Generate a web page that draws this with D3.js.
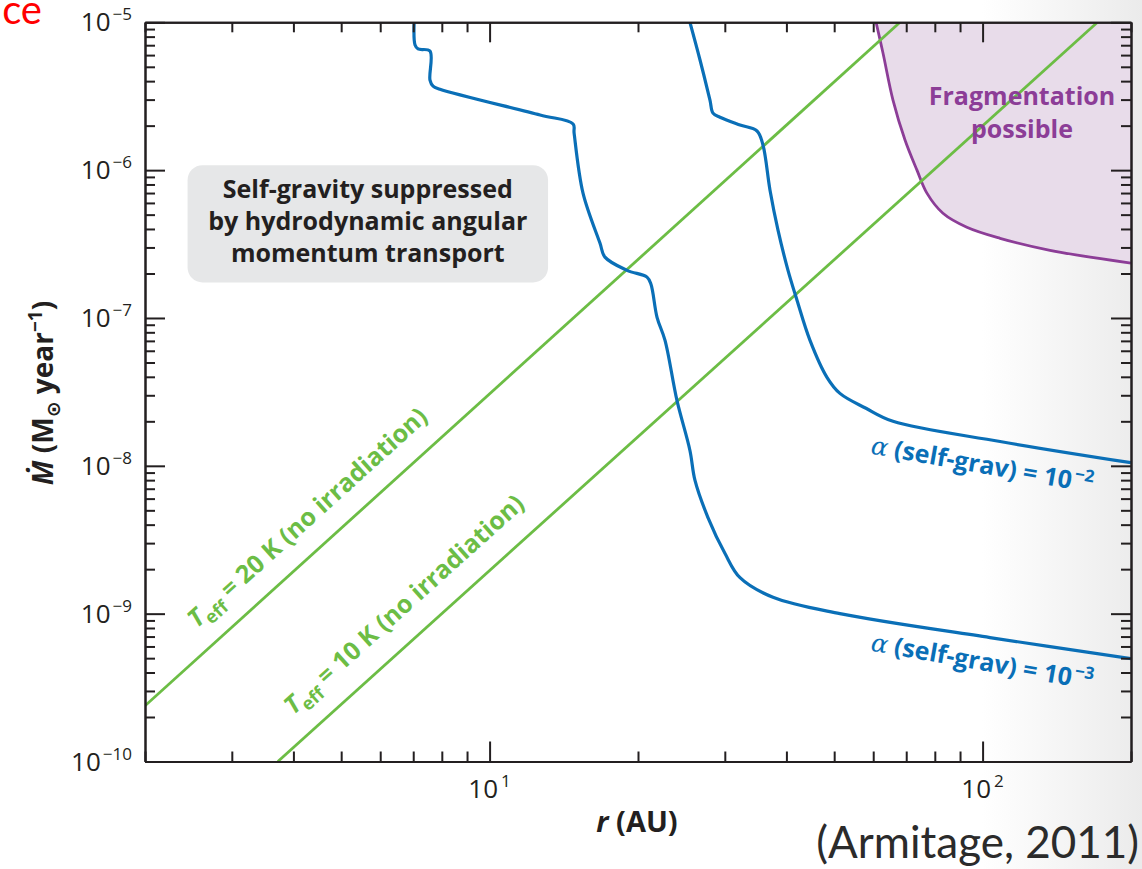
<!DOCTYPE html>
<html>
<head>
<meta charset="utf-8">
<script src="https://cdn.jsdelivr.net/npm/d3@7"></script>
<style>
    html, body { margin: 0; padding: 0; background: #fff; }
    svg { display: block; }
</style>
</head>
<body>
<div id="chart"></div>
<script>
// ---- data (r in AU, Mdot in Msun/yr) ----
const radiusDomain = [2, 200];
const mdotDomain = [1e-10, 1e-5];
const xMajorTicks = [10, 100];
const xTickLabels = ["1", "2"];
const yMajorTicks = [1e-10, 1e-9, 1e-8, 1e-7, 1e-6, 1e-5];
const yTickLabels = ["\u221210", "\u22129", "\u22128", "\u22127", "\u22126", "\u22125"];

// Teff lines (no irradiation)
const teff20 = [[2, 2.38e-10], [68, 1e-5]];
const teff10 = [[3.72, 1e-10], [171, 1e-5]];

// alpha(self-grav) = 1e-3
const alpha3 = [
    [7.03, 1e-5], [7.06, 7.02e-6], [7.16, 6.60e-6], [7.57, 6.39e-6], [7.57, 4.07e-6],
    [7.68, 3.70e-6], [7.93, 3.53e-6], [12.66, 2.36e-6], [14.77, 2.05e-6], [14.84, 1.78e-6],
    [15.47, 6.99e-7], [16.75, 3.20e-7], [17.14, 2.58e-7], [19.0, 2.10e-7], [20.86, 1.89e-7],
    [21.25, 1.69e-7], [21.86, 1.01e-7], [22.69, 7.06e-8], [23.99, 2.77e-8], [25.49, 1.27e-8],
    [26.10, 7.96e-9], [27.73, 4.47e-9], [30.03, 2.55e-9], [32.21, 1.75e-9], [37.57, 1.29e-9],
    [51.36, 1.00e-9], [103.5, 6.89e-10], [200, 4.97e-10]
];

// alpha(self-grav) = 1e-2
const alpha2 = [
    [25.49, 1e-5], [26.72, 5.56e-6], [27.99, 2.98e-6], [28.39, 2.43e-6], [29.33, 2.28e-6],
    [32.21, 2.02e-6], [34.87, 1.84e-6], [35.85, 1.48e-6], [37.05, 7.32e-7], [38.46, 3.93e-7],
    [40.30, 2.10e-7], [42.03, 1.32e-7], [44.66, 7.06e-8], [48.34, 3.97e-8], [51.36, 3.09e-8],
    [58.0, 2.45e-8], [65.8, 2.00e-8], [108.5, 1.46e-8], [200, 1.05e-8]
];

// fragmentation boundary
const fragBoundary = [
    [60.8, 1e-5], [62.8, 6.20e-6], [65.8, 2.98e-6], [69.6, 1.60e-6], [73.6, 1.0e-6],
    [77.1, 6.99e-7], [83.1, 5.11e-7], [92.9, 4.11e-7], [108.5, 3.46e-7], [137, 2.87e-7],
    [200, 2.35e-7]
];

const green = "#6cbd45";
const blue = "#0a6fb7";
const purple = "#8c3d97";
const ink = "#231f20";

const W = 1142, H = 869;
const plot = { left: 145, right: 1131, top: 22.3, bottom: 761.5 };

const svg = d3.select("#chart").append("svg")
    .attr("width", W)
    .attr("height", H)
    .style("font-family", "'Open Sans', 'DejaVu Sans', sans-serif");

// slide background with the grey fade on the right
const defs = svg.append("defs");
const grad = defs.append("linearGradient").attr("id", "bg").attr("x1", 0).attr("x2", 1).attr("y1", 0).attr("y2", 0);
grad.append("stop").attr("offset", "0.86").attr("stop-color", "#ffffff");
grad.append("stop").attr("offset", "1").attr("stop-color", "#ebebeb");
svg.append("rect").attr("width", W).attr("height", H).attr("fill", "url(#bg)");

defs.append("clipPath").attr("id", "clip")
    .append("rect")
    .attr("x", plot.left).attr("y", plot.top)
    .attr("width", plot.right - plot.left).attr("height", plot.bottom - plot.top);

const x = d3.scaleLog().domain(radiusDomain).range([plot.left, plot.right]);
const y = d3.scaleLog().domain(mdotDomain).range([plot.bottom, plot.top]);

const line = d3.line()
    .x(d => x(d[0]))
    .y(d => y(d[1]))
    .curve(d3.curveCatmullRom.alpha(0.5));

const g = svg.append("g").attr("clip-path", "url(#clip)");

// fragmentation region: boundary plus the upper right corner
const fragArea = fragBoundary.concat([[radiusDomain[1] * 1.2, mdotDomain[1] * 1.5], [fragBoundary[0][0], mdotDomain[1] * 1.5]]);
g.append("path")
    .attr("d", d3.line().x(d => x(d[0])).y(d => y(d[1]))(fragArea) + "Z")
    .attr("fill", "#e8dcea");

g.append("path").attr("d", line(fragBoundary))
    .attr("fill", "none").attr("stroke", purple).attr("stroke-width", 2.8);

[teff20, teff10].forEach(d => {
    g.append("path").attr("d", d3.line().x(p => x(p[0])).y(p => y(p[1]))(d))
        .attr("fill", "none").attr("stroke", green).attr("stroke-width", 2.8);
});

[alpha3, alpha2].forEach(d => {
    g.append("path").attr("d", line(d))
        .attr("fill", "none").attr("stroke", blue).attr("stroke-width", 3.2)
        .attr("stroke-linejoin", "round");
});

// ---- axes: inward ticks on all four sides ----
const isMajor = v => Math.abs(Math.log10(v) - Math.round(Math.log10(v))) < 1e-9;
const xMinor = x.ticks().filter(v => !isMajor(v));
const yMinor = y.ticks().filter(v => !isMajor(v));

function styleAxis(sel) {
    sel.selectAll("path.domain").attr("stroke", ink).attr("stroke-width", 2);
    sel.selectAll(".tick line").attr("stroke", ink).attr("stroke-width", 2);
    sel.selectAll(".tick text").remove();
}

const axes = [
    { make: d3.axisBottom, sc: x, tr: `translate(0,${plot.bottom})`, minor: xMinor, major: xMajorTicks },
    { make: d3.axisTop, sc: x, tr: `translate(0,${plot.top})`, minor: xMinor, major: xMajorTicks },
    { make: d3.axisLeft, sc: y, tr: `translate(${plot.left},0)`, minor: yMinor, major: yMajorTicks },
    { make: d3.axisRight, sc: y, tr: `translate(${plot.right},0)`, minor: yMinor, major: yMajorTicks }
];
axes.forEach(a => {
    svg.append("g").attr("transform", a.tr)
        .call(a.make(a.sc).tickValues(a.minor).tickSizeInner(-10).tickSizeOuter(0).tickFormat(""))
        .call(styleAxis);
    svg.append("g").attr("transform", a.tr)
        .call(a.make(a.sc).tickValues(a.major).tickSizeInner(-20).tickSizeOuter(0).tickFormat(""))
        .call(styleAxis);
});

// tick labels 10^n
const tickFont = 26;
yMajorTicks.forEach((v, i) => {
    const t = svg.append("text")
        .attr("x", plot.left - 13)
        .attr("y", y(v) + 9)
        .attr("text-anchor", "end")
        .attr("fill", ink)
        .attr("font-size", tickFont);
    t.append("tspan").text("10");
    t.append("tspan").attr("dy", -11).attr("dx", 2).attr("font-size", 17).text(yTickLabels[i]);
});
xMajorTicks.forEach((v, i) => {
    const t = svg.append("text")
        .attr("x", x(v))
        .attr("y", plot.bottom + 36)
        .attr("text-anchor", "middle")
        .attr("fill", ink)
        .attr("font-size", tickFont);
    t.append("tspan").text("10");
    t.append("tspan").attr("dy", -11).attr("dx", 3).attr("font-size", 17).text(xTickLabels[i]);
});

// axis titles
const xt = svg.append("text")
    .attr("x", 637).attr("y", 832)
    .attr("text-anchor", "middle")
    .attr("font-size", 29).attr("font-weight", "bold").attr("fill", ink);
xt.append("tspan").attr("font-style", "italic").text("r");
xt.append("tspan").text(" (AU)");

const yt = svg.append("text")
    .attr("transform", "translate(53,393) rotate(-90)")
    .attr("text-anchor", "middle")
    .attr("font-size", 28).attr("font-weight", "bold").attr("fill", ink);
yt.append("tspan").attr("font-style", "italic").text("\u1E40");
yt.append("tspan").text(" (M");
yt.append("tspan").attr("dy", 7).attr("font-size", 19).attr("font-family", "'DejaVu Sans'").text("\u2299");
yt.append("tspan").attr("dy", -7).text(" year");
yt.append("tspan").attr("dy", -11).attr("font-size", 19).text("\u22121");
yt.append("tspan").attr("dy", 11).text(")");

// ---- annotations ----
function lineAngle(d) {
    return Math.atan2(y(d[1][1]) - y(d[0][1]), x(d[1][0]) - x(d[0][0])) * 180 / Math.PI;
}

const teffLabels = [
    { line: teff20, r: 2.55, m: 7.9e-10, value: "20" },
    { line: teff10, r: 4.0, m: 2.05e-10, value: "10" }
];
teffLabels.forEach(l => {
    const t = svg.append("text")
        .attr("transform", `translate(${x(l.r)},${y(l.m)}) rotate(${lineAngle(l.line)})`)
        .attr("font-size", 25).attr("font-weight", "bold").attr("fill", green);
    t.append("tspan").attr("font-style", "italic").text("T");
    t.append("tspan").attr("dy", 7).attr("font-size", 18).text("eff");
    t.append("tspan").attr("dy", -7).text(` = ${l.value} K (no irradiation)`);
});

const alphaLabels = [
    { r: 59.1, m: 1.21e-8, exp: "\u22122" },
    { r: 59.1, m: 5.63e-10, exp: "\u22123" }
];
alphaLabels.forEach(l => {
    const t = svg.append("text")
        .attr("transform", `translate(${x(l.r)},${y(l.m)}) rotate(10)`)
        .attr("font-size", 25).attr("font-weight", "bold").attr("fill", blue);
    t.append("tspan").attr("font-style", "italic").attr("font-family", "'DejaVu Serif', serif").attr("font-weight", "normal").text("\u03B1");
    t.append("tspan").text(" (self-grav) = 10");
    t.append("tspan").attr("dy", -10).attr("font-size", 17).attr("dx", 2).text(l.exp);
});

const fragLines = [
    { text: "Fragmentation", m: 2.74e-6 },
    { text: "possible", m: 1.64e-6 }
];
fragLines.forEach(l => {
    svg.append("text")
        .attr("x", x(120.2)).attr("y", y(l.m))
        .attr("text-anchor", "middle")
        .attr("font-size", 25).attr("font-weight", "bold").attr("fill", purple)
        .text(l.text);
});

// grey note box
const box = { r0: 2.44, r1: 13.14, m0: 1.08e-6, m1: 1.74e-7 };
svg.append("rect")
    .attr("x", x(box.r0)).attr("y", y(box.m0))
    .attr("width", x(box.r1) - x(box.r0)).attr("height", y(box.m1) - y(box.m0))
    .attr("rx", 15)
    .attr("fill", "#e6e7e8");
const noteLines = ["Self-gravity suppressed", "by hydrodynamic angular", "momentum transport"];
noteLines.forEach((s, i) => {
    svg.append("text")
        .attr("x", (x(box.r0) + x(box.r1)) / 2)
        .attr("y", y(box.m0) + 33 + i * 32)
        .attr("text-anchor", "middle")
        .attr("font-size", 25).attr("font-weight", "bold").attr("fill", ink)
        .text(s);
});

// slide leftovers
svg.append("text")
    .attr("x", 42).attr("y", 24)
    .attr("text-anchor", "end")
    .attr("font-family", "Lato, sans-serif")
    .attr("font-size", 40).attr("fill", "#ff0000")
    .text("ce");

svg.append("text")
    .attr("x", 1139).attr("y", 858)
    .attr("text-anchor", "end")
    .attr("font-family", "Lato, sans-serif")
    .attr("font-size", 44).attr("fill", "#2b2b2b")
    .text("(Armitage, 2011)");
</script>
</body>
</html>
